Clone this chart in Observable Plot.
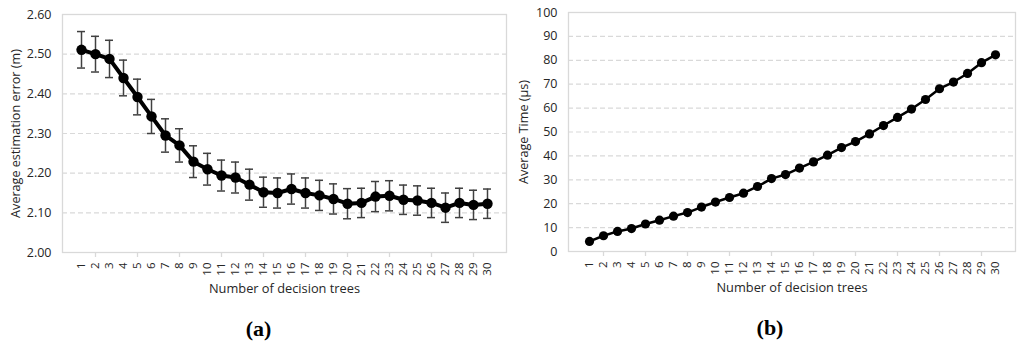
<!DOCTYPE html>
<html><head><meta charset="utf-8">
<script src="https://cdn.jsdelivr.net/npm/d3@7"></script>
<script src="https://cdn.jsdelivr.net/npm/@observablehq/plot@0.6"></script>
<style>
body{margin:0;background:#fff;}
#wrap{position:relative;width:1024px;height:346px;overflow:hidden;}
#wrap svg{position:absolute;top:0;}
</style></head><body><div id="wrap"></div>
<script>
const trees = [1,2,3,4,5,6,7,8,9,10,11,12,13,14,15,16,17,18,19,20,21,22,23,24,25,26,27,28,29,30];
const markedTrees = [2,5,8,11,14,17,20,23,26,29];
const errorMean = [2.511,2.500,2.488,2.440,2.392,2.343,2.295,2.270,2.229,2.210,2.194,2.189,2.171,2.152,2.150,2.160,2.150,2.144,2.135,2.123,2.125,2.141,2.143,2.133,2.131,2.125,2.113,2.125,2.120,2.123];
const errorSd = [0.046,0.045,0.047,0.045,0.045,0.043,0.042,0.042,0.040,0.040,0.039,0.039,0.039,0.038,0.038,0.038,0.038,0.038,0.038,0.038,0.037,0.038,0.038,0.037,0.037,0.037,0.037,0.037,0.037,0.037];
const timeMean = [4.2,6.6,8.4,9.6,11.5,13.1,14.8,16.3,18.6,20.7,22.6,24.4,27.2,30.5,32.2,34.9,37.5,40.3,43.5,46.0,49.2,52.7,56.1,59.6,63.6,68.1,70.9,74.5,79.0,82.3];
const errTicks = [2.0,2.1,2.2,2.3,2.4,2.5,2.6];
const errGrid = [2.1,2.2,2.3,2.4,2.5];
const timeTicks = [0,10,20,30,40,50,60,70,80,90,100];
const timeGrid = [10,20,30,40,50,60,70,80,90];
const xTitle = "Number of decision trees";
const yTitleA = "Average estimation error (m)";
const yTitleB = "Average Time (µs)";

const dataA = trees.map((n,i)=>({n, v:errorMean[i], lo:errorMean[i]-errorSd[i], hi:errorMean[i]+errorSd[i]}));
const dataB = trees.map((n,i)=>({n, v:timeMean[i]}));

const gridCol = "#d9d9d9";
const textCol = "#262626";
const font = "Open Sans";

function common(ml, mr, mt, mb, yDomain, yTicks, grid, fmt, yTitle, yTitleDx, capText, capDx){
  return {
    width: 512, height: 346,
    marginLeft: ml, marginRight: mr, marginTop: mt, marginBottom: mb,
    style: {fontFamily: font, fontSize: "12px", color: textCol, background: "transparent", overflow: "visible"},
    x: {type: "point", domain: trees, padding: 0.5},
    y: {domain: yDomain},
    base: [
      Plot.ruleY(grid, {stroke: gridCol, strokeDasharray: "5,3", strokeWidth: 1.2}),
      Plot.frame({stroke: gridCol, strokeWidth: 1.3}),
      Plot.axisY({ticks: yTicks, tickSize: 0, tickPadding: 11, tickFormat: fmt, label: null, fontSize: 12.5, fill: textCol}),
      Plot.axisX({tickSize: 0, tickPadding: 10, tickRotate: -90, label: null, fontSize: 11.5, fill: textCol}),
      Plot.ruleX(markedTrees, {x: d => d, y1: yDomain[0], y2: yDomain[0], insetBottom: -5, stroke: gridCol, strokeWidth: 1.3}),
      Plot.text([xTitle], {frameAnchor: "bottom", dy: 36, lineAnchor: "middle", textAnchor: "middle", fontSize: 12.8, fill: textCol}),
      Plot.text([yTitle], {frameAnchor: "left", rotate: -90, dx: yTitleDx, textAnchor: "middle", lineAnchor: "middle", fontSize: 12.6, fill: textCol}),
      Plot.text([capText], {frameAnchor: "bottom", dy: 76, dx: capDx, lineAnchor: "middle", textAnchor: "middle", fontSize: 22, fontWeight: "bold", fontFamily: "Liberation Serif", fill: "#000"})
    ]
  };
}

const cA = common(62, 6, 14, 94, [2, 2.6], errTicks, errGrid, d => d.toFixed(2), yTitleA, -47, "(a)", -26);
const chartA = Plot.plot({
  ...cA,
  marks: [
    ...cA.base,
    Plot.ruleX(dataA, {x: "n", y1: "lo", y2: "hi", stroke: "#404040", strokeWidth: 1.5}),
    Plot.ruleY(dataA, {y: "lo", x1: "n", x2: "n", insetLeft: -4, insetRight: -4, stroke: "#404040", strokeWidth: 1.5}),
    Plot.ruleY(dataA, {y: "hi", x1: "n", x2: "n", insetLeft: -4, insetRight: -4, stroke: "#404040", strokeWidth: 1.5}),
    Plot.line(dataA, {x: "n", y: "v", stroke: "#000", strokeWidth: 4}),
    Plot.dot(dataA, {x: "n", y: "v", r: 5.2, fill: "#000", stroke: "none"})
  ]
});

const cB = common(56, 9, 12, 95, [0, 100], timeTicks, timeGrid, d => String(d), yTitleB, -45, "(b)", -22);
const chartB = Plot.plot({
  ...cB,
  marks: [
    ...cB.base,
    Plot.line(dataB, {x: "n", y: "v", stroke: "#000", strokeWidth: 2.5}),
    Plot.dot(dataB, {x: "n", y: "v", r: 4.6, fill: "#000", stroke: "none"})
  ]
});

chartA.style.left = "0px";
chartB.style.left = "512px";
const wrap = document.getElementById("wrap");
wrap.appendChild(chartA);
wrap.appendChild(chartB);
</script>
</body></html>
